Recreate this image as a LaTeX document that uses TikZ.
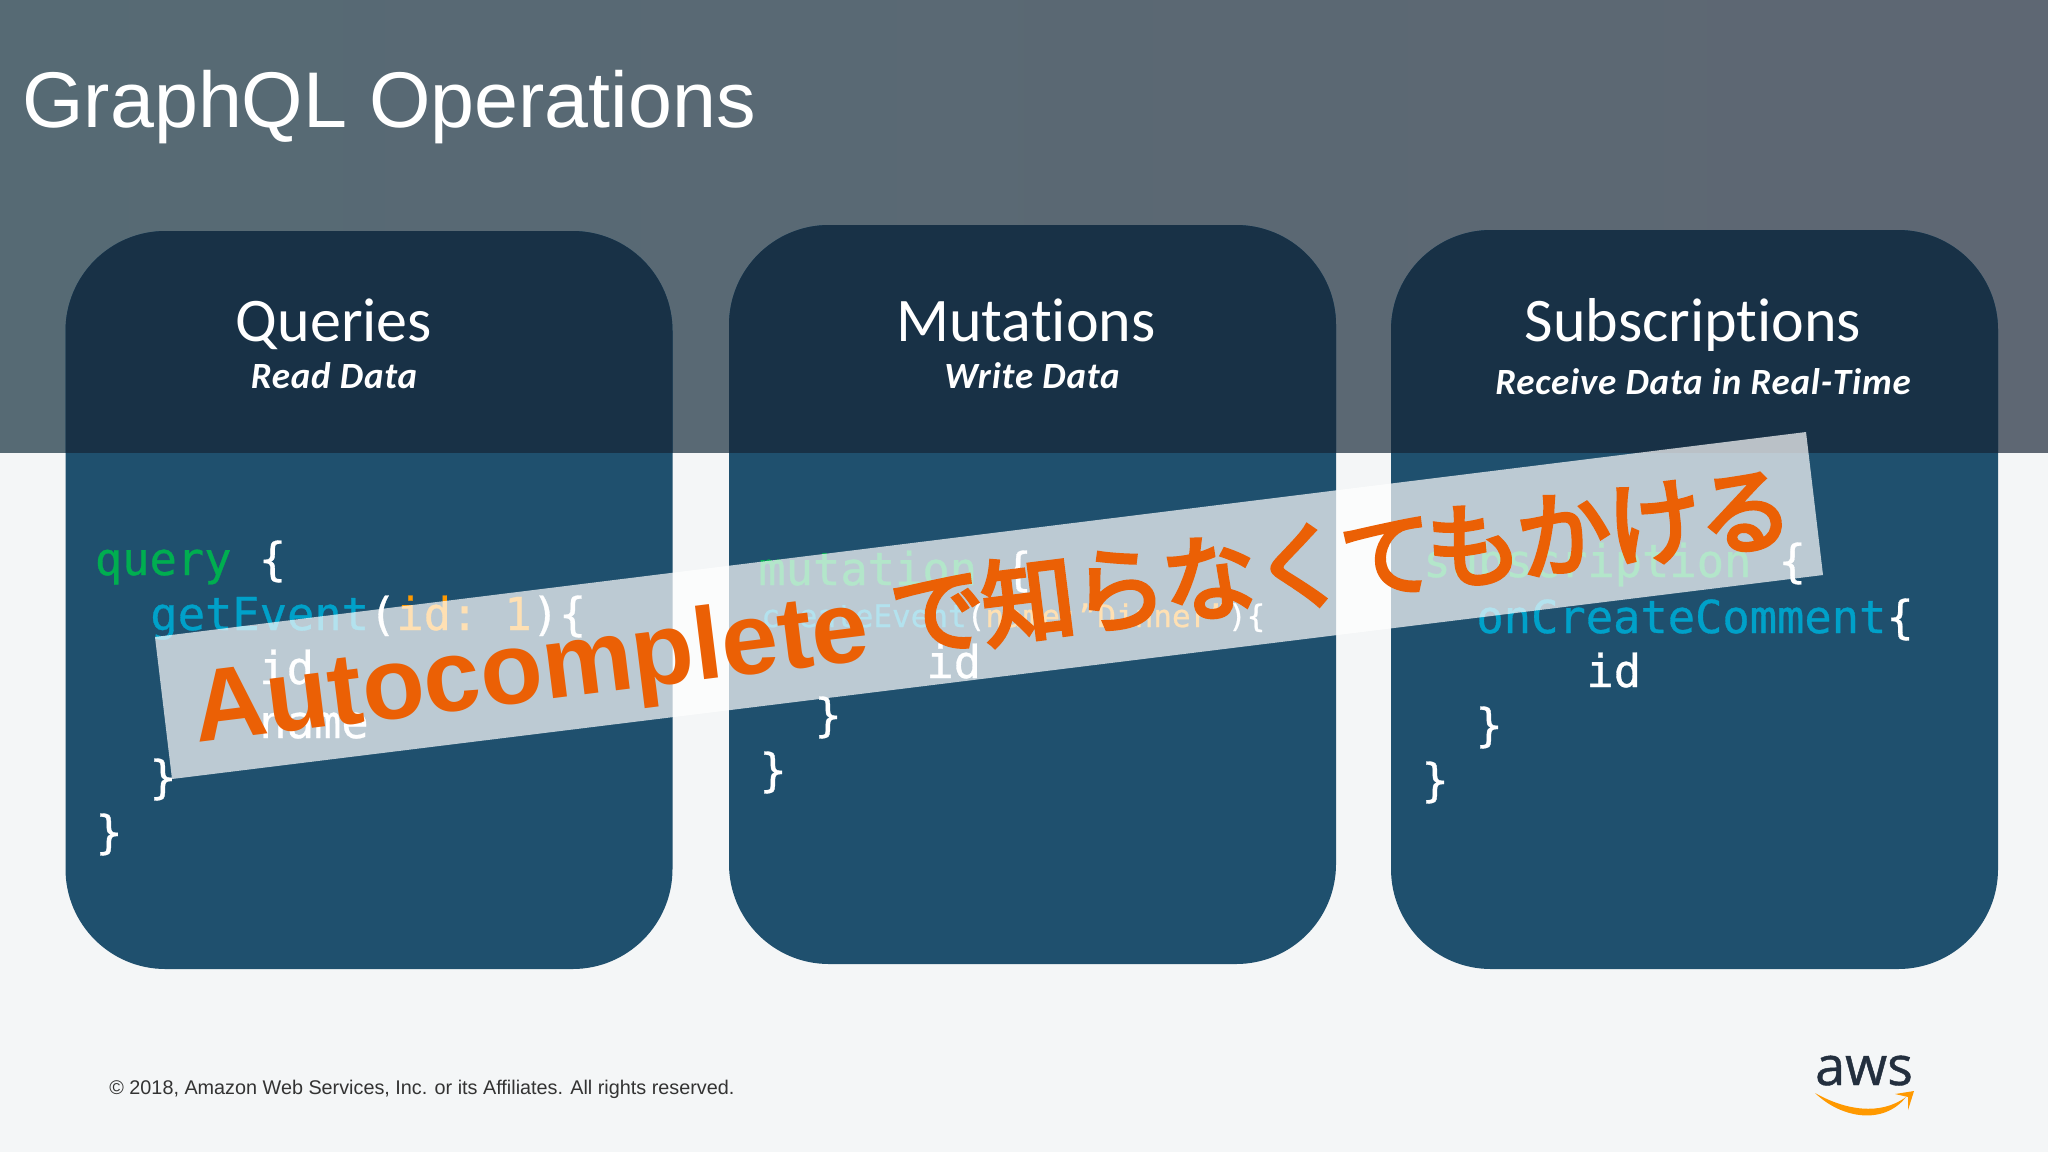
\documentclass[tikz,border=0pt]{standalone}
\usepackage{fontspec}
\setmainfont{Liberation Sans}
\newfontfamily\codefont[FakeBold=0.7]{DejaVu Sans Mono}
\newfontfamily\headfont[Ligatures=NoCommon]{Carlito}
\newfontfamily\subfont[LetterSpace=2.2,Ligatures=NoCommon]{Carlito}
\newfontfamily\jpfont[FakeBold=4,LetterSpace=-3]{Noto Sans CJK JP}
\newfontfamily\logofont[FakeBold=0.8]{Open Sans}
\definecolor{headA}{HTML}{566A74}
\definecolor{headB}{HTML}{5E6773}
\definecolor{pagebg}{HTML}{F4F6F7}
\definecolor{cardlow}{HTML}{1F506E}
\definecolor{cardtop}{HTML}{183146}
\definecolor{kwgreen}{HTML}{00AE50}
\definecolor{fncyan}{HTML}{00A1C9}
\definecolor{argorange}{HTML}{FF9900}
\definecolor{stamp}{HTML}{EB6005}
\definecolor{awsink}{HTML}{232F3E}
\newcommand{\cardshape}[3]{%
  \fill[cardlow,rounded corners=50pt] (#1,#2) rectangle ++(607,#3);
  \begin{scope}
    \clip (0,0) rectangle (2048,452);
    \fill[cardtop,rounded corners=50pt] (#1,#2) rectangle ++(607,#3);
  \end{scope}}
\newcommand{\fnt}[1]{\fontsize{#1}{#1}\selectfont}
\tikzset{
  x=0.5pt,y=-0.5pt,
  code/.style={anchor=base west,inner sep=0pt,text=white,font=\codefont\fnt{22.7}},
  smallcode/.style={anchor=base west,inner sep=0pt,text=white,font=\codefont\fnt{15.5}},
  heading/.style={anchor=base,inner sep=0pt,text=white,font=\headfont\fnt{31}},
  subheading/.style={anchor=base,inner sep=0pt,text=white,font=\subfont\bfseries\itshape\fnt{18.5}},
}
\begin{document}
\begin{tikzpicture}
\useasboundingbox (0,0) rectangle (2048,1152);
\fill[pagebg] (0,0) rectangle (2048,1152);
\shade[left color=headA,right color=headB] (0,0) rectangle (2048,452);
\node[anchor=base west,inner sep=0pt,text=white,font=\fnt{39.5}] (title) at (22,127) {GraphQL Operations};
\cardshape{65.5}{231}{738}
\cardshape{729}{225}{739}
\cardshape{1391}{230}{739}
\node[heading] (h1) at (334,341) {Queries};
\node[heading] (h2) at (1026,341) {Mutations};
\node[heading] (h3) at (1693,341) {Subscriptions};
\node[subheading] (s1) at (334,388) {Read Data};
\node[subheading] (s2) at (1032,388) {Write Data};
\node[subheading] (s3) at (1703,394) {Receive Data in Real-Time};
% Query
\node[code] (q1) at (94.5,575) {\textcolor{kwgreen}{query} \{};
\node[code] (q2) at (150,630) {\textcolor{fncyan}{getEvent}(\textcolor{argorange}{id:\hspace{13pt}1})\{};
\node[code] (q3) at (259,684) {id};
\node[code] (q4) at (259,738) {name};
\node[code] (q5) at (149,793) {\}};
\node[code] (q6) at (95,848) {\}};
% Mutation
\node[code] (m1) at (758,585) {\textcolor{kwgreen}{mutation} \{};
\node[smallcode] (m2) at (761,627) {\textcolor{fncyan}{createEvent}(\textcolor{argorange}{name:”Dinner”})\{};
\node[code] (m3) at (926,678) {id};
\node[code] (m4) at (814,731) {\}};
\node[code] (m5) at (759,786) {\}};
% Subscription
\node[code] (c1) at (1423,577) {\textcolor{kwgreen}{subscription} \{};
\node[code] (c2) at (1476,633) {\textcolor{fncyan}{onCreateComment}\{};
\node[code] (c3) at (1586,687) {id};
\node[code] (c4) at (1475,741) {\}};
\node[code] (c5) at (1421,796) {\}};
% Ribbon
\fill[white,opacity=.7] (155,637) -- (172,779) -- (1823,575) -- (1806,432) -- cycle;
\node[anchor=base west,inner sep=0pt,rotate=7.08,text=stamp,font=\bfseries\fnt{51}] (stamp) at (197,743)
  {Autocomplete\hspace{12pt}\raisebox{2pt}{\jpfont\mdseries\fnt{47}で知らなくてもかける}};
% Footer
\node[anchor=base west,inner sep=0pt,text=black!80,font=\fnt{9.9}] (foot) at (109,1094)
  {© 2018, Amazon Web Services, Inc. or its Affiliates. All rights reserved.};
% AWS logo
\node[anchor=base,inner sep=0pt,text=awsink,font=\logofont\fnt{27}] (aws) at (1864,1085) {aws};
\fill[argorange] (1815,1093) .. controls (1845,1110) and (1880,1116) .. (1906,1097)
  .. controls (1884,1125) and (1842,1119) .. (1815,1093) -- cycle;
\fill[argorange] (1895,1094) -- (1914,1091) -- (1908,1110) -- (1908,1097) -- cycle;
\end{tikzpicture}
\end{document}
